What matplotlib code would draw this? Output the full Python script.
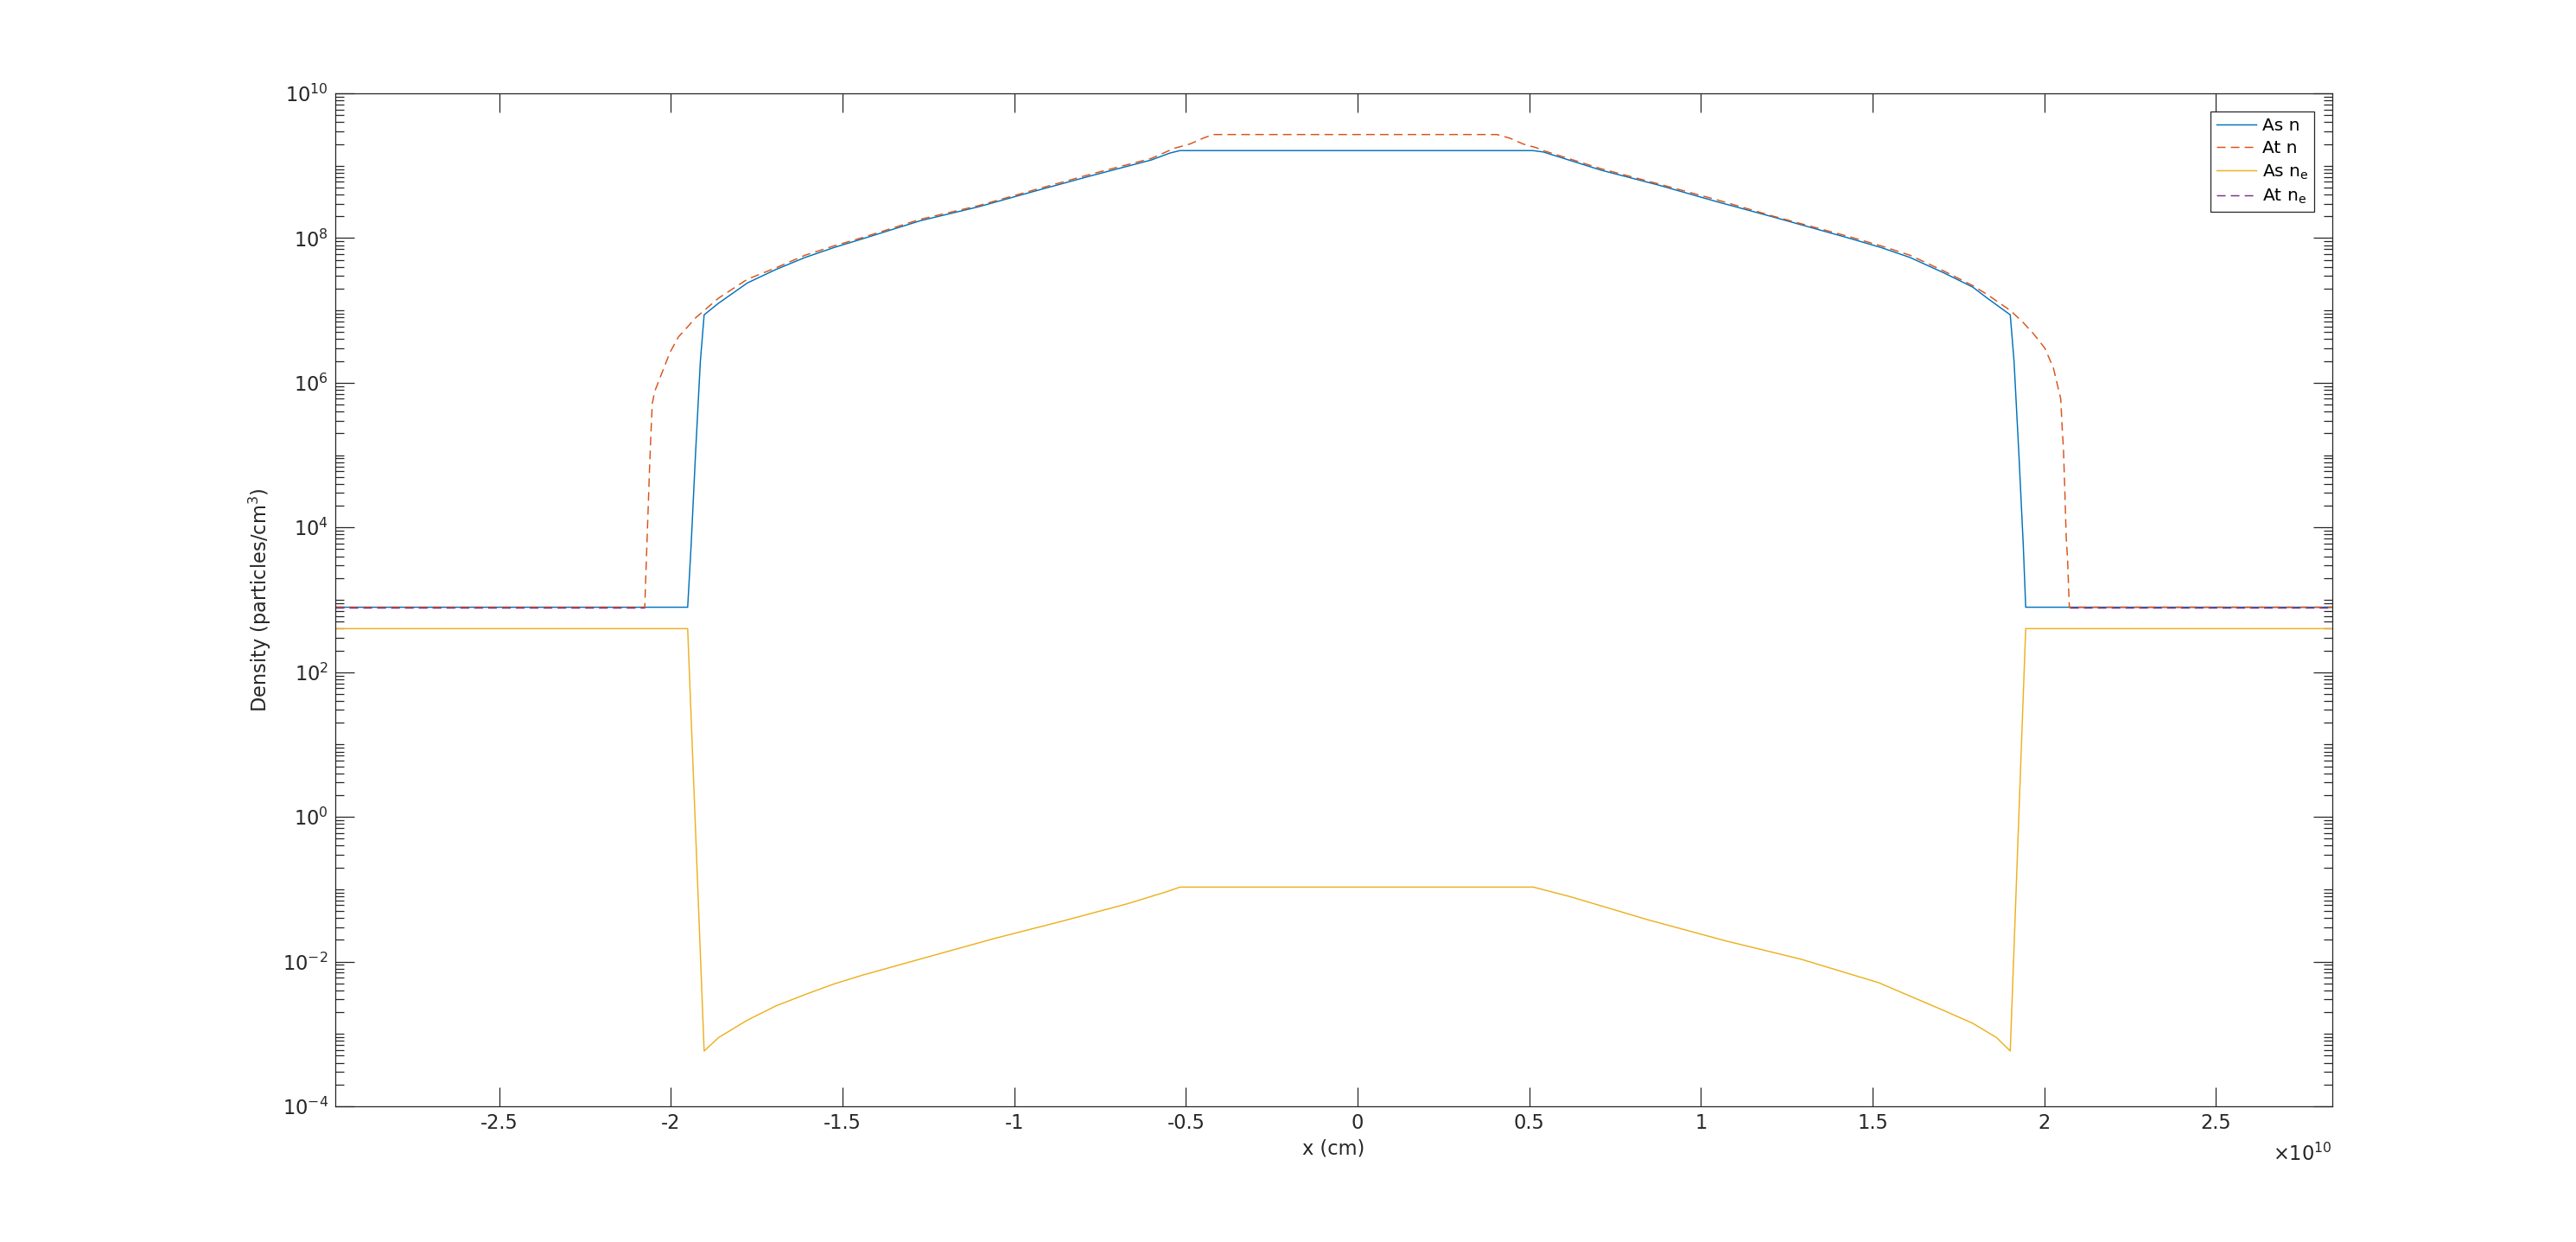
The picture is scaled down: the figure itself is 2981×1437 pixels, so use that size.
import numpy as np
import matplotlib
matplotlib.use("Agg")
import matplotlib.pyplot as plt
from matplotlib.ticker import LogLocator, LogFormatterSciNotation, FixedLocator, FuncFormatter, NullFormatter

# x positions in units of 1e10 cm, densities in particles/cm^3
x_as_n = [-2.977, -1.951, -1.941, -1.928, -1.914, -1.903, -1.861, -1.777, -1.693, -1.609,
          -1.525, -1.441, -1.273, -1.105, -0.937, -0.770, -0.601, -0.546, -0.517,
          0.511, 0.541, 0.709, 0.877, 1.045, 1.212, 1.431, 1.525, 1.609, 1.708,
          1.792, 1.834, 1.901, 1.912, 1.926, 1.939, 1.946, 2.839]
as_n = [7.9e2, 7.9e2, 5.6e3, 1.07e5, 2.0e6, 8.7e6, 1.26e7, 2.4e7, 3.7e7, 5.4e7,
        7.4e7, 9.8e7, 1.74e8, 2.7e8, 4.5e8, 7.4e8, 1.2e9, 1.5e9, 1.62e9,
        1.62e9, 1.55e9, 8.7e8, 5.4e8, 3.2e8, 1.95e8, 1.0e8, 7.4e7, 5.4e7, 3.3e7,
        2.1e7, 1.48e7, 8.7e6, 2.0e6, 1.07e5, 5.6e3, 7.9e2, 7.9e2]

x_at_n = [-2.977, -2.076, -2.071, -2.062, -2.058, -2.054, -2.047, -2.003, -1.978, -1.953,
          -1.928, -1.861, -1.777, -1.693, -1.609, -1.525, -1.441, -1.273, -1.105, -0.937,
          -0.770, -0.601, -0.534, -0.488, -0.450, -0.421,
          0.406, 0.444, 0.482, 0.520, 0.541, 0.709, 0.877, 1.045, 1.212, 1.431,
          1.525, 1.609, 1.708, 1.792, 1.834, 1.901, 1.935, 1.968, 2.002, 2.027,
          2.048, 2.052, 2.056, 2.060, 2.064, 2.068, 2.073, 2.839]
at_n = [7.9e2, 7.9e2, 3.9e3, 6.6e4, 2.0e5, 5.2e5, 7.6e5, 2.6e6, 4.3e6, 5.8e6,
        7.9e6, 1.48e7, 2.7e7, 3.9e7, 5.8e7, 7.8e7, 1.02e8, 1.82e8, 2.8e8, 4.7e8,
        7.8e8, 1.26e9, 1.74e9, 2.0e9, 2.4e9, 2.7e9,
        2.7e9, 2.4e9, 2.0e9, 1.78e9, 1.62e9, 9.1e8, 5.6e8, 3.4e8, 2.0e8, 1.05e8,
        7.8e7, 5.8e7, 3.5e7, 2.2e7, 1.66e7, 1.0e7, 7.1e6, 4.8e6, 3.0e6, 1.58e6,
        6.0e5, 2.5e5, 1.2e5, 3.2e4, 7.2e3, 3.6e3, 7.9e2, 7.9e2]

x_as_ne = [-2.977, -1.951, -1.903, -1.861, -1.777, -1.693, -1.609, -1.525, -1.441,
           -1.248, -1.055, -0.862, -0.670, -0.554, -0.517,
           0.512, 0.619, 0.844, 1.069, 1.294, 1.518, 1.708, 1.792, 1.861, 1.901,
           1.946, 2.839]
as_ne = [4.0e2, 4.0e2, 5.8e-4, 8.9e-4, 1.55e-3, 2.45e-3, 3.5e-3, 4.9e-3, 6.5e-3,
         1.17e-2, 2.1e-2, 3.6e-2, 6.3e-2, 9.3e-2, 1.07e-1,
         1.07e-1, 7.9e-2, 3.8e-2, 1.95e-2, 1.07e-2, 5.1e-3, 2.1e-3, 1.4e-3, 8.9e-4, 5.8e-4,
         4.0e2, 4.0e2]

# At n_e only shows outside the core (zero inside, not drawn on log axis)
x_at_ne = [-2.977, -2.076, 0.0, 2.073, 2.839]
at_ne = [7.9e2, 7.9e2, np.nan, 7.9e2, 7.9e2]

plt.rcParams['font.family'] = ['DejaVu Sans']
plt.rcParams['font.size'] = 10.8
plt.rcParams['axes.unicode_minus'] = False
plt.rcParams['lines.scale_dashes'] = False

fig = plt.figure(figsize=(2981 / 150, 1437 / 150), dpi=150)
ax = fig.add_axes([0.1302, 0.1093, 0.7752, 0.8155])

lw = 0.7
dash = (4.8, 2.9)
ax.plot(np.array(x_as_n) * 1e10, as_n, color='#0072BD', lw=lw, label='As n')
ax.plot(np.array(x_at_n) * 1e10, at_n, color='#D95319', lw=lw, dashes=dash, label='At n')
ax.plot(np.array(x_as_ne) * 1e10, as_ne, color='#EDB120', lw=lw, label=r'As n$_\mathregular{e}$')
ax.plot(np.array(x_at_ne) * 1e10, at_ne, color='#7E2F8E', lw=lw, dashes=dash,
        label=r'At n$_\mathregular{e}$')

ax.set_yscale('log')
ax.set_xlim(-2.977e10, 2.839e10)
ax.set_ylim(1e-4, 1e10)

ax.xaxis.set_major_locator(FixedLocator(np.arange(-2.5, 2.51, 0.5) * 1e10))
ax.xaxis.set_major_formatter(FuncFormatter(lambda v, p: f"{v / 1e10:g}"))
ax.yaxis.set_major_locator(LogLocator(base=100, numticks=20))
ax.yaxis.set_major_formatter(LogFormatterSciNotation())
ax.yaxis.set_minor_locator(LogLocator(base=10, subs=np.arange(1, 10), numticks=100))
ax.yaxis.set_minor_formatter(NullFormatter())
ax.xaxis.offsetText.set_visible(False)
ax.yaxis.offsetText.set_visible(False)

axis_col = '#262626'
for s in ax.spines.values():
    s.set_color(axis_col)
    s.set_linewidth(0.6)
ax.tick_params(which='both', direction='in', top=True, right=True, colors=axis_col,
               width=0.6, labelsize=10.8, labelcolor=axis_col)
ax.tick_params(which='major', length=10.5, pad=4)
ax.tick_params(which='minor', length=5)

ax.text(1.0, -0.047, r'$\times10^{10}$', transform=ax.transAxes, ha='right', va='center',
        fontsize=10.8, color=axis_col)

ax.set_xlabel('x (cm)', color=axis_col, labelpad=3)
ax.set_ylabel('Density (particles/cm$^3$)', color=axis_col, labelpad=5)

leg = ax.legend(loc='upper right', bbox_to_anchor=(0.991, 0.982), borderaxespad=0,
                fontsize=9.7, fancybox=False, framealpha=1, edgecolor=axis_col,
                handlelength=2.3, handletextpad=0.3, labelspacing=0.35, borderpad=0.35)
leg.get_frame().set_linewidth(0.6)

fig.savefig('out.png', dpi=150, facecolor='white')
